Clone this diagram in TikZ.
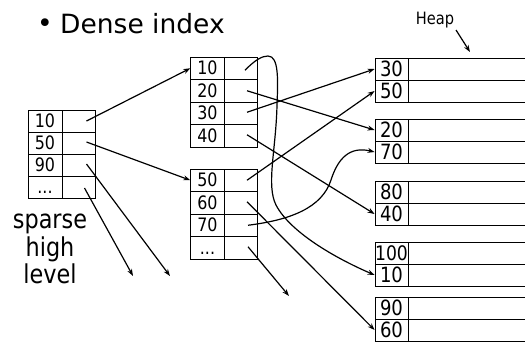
\documentclass[tikz,border=0pt]{standalone}
\usepackage{fontspec}
\setmainfont{DejaVu Sans}
\newfontfamily\narrowfont[FakeStretch=0.86]{DejaVu Sans}
\usetikzlibrary{arrows.meta,calc}
\newcommand{\celldots}{\vphantom{0}...}
\newcommand{\hundred}{\fontsize{20}{20}\selectfont 100}
\begin{document}
\begin{tikzpicture}[x=1pt,y=-1pt,
  cell/.style={draw=black, line width=0.8pt, inner sep=0pt, minimum height=22pt,
    font=\narrowfont\fontsize{18.5}{18.5}\selectfont},
  keycell/.style={cell, minimum width=34pt},
  midcell/.style={cell, minimum width=33.5pt, minimum height=22.5pt},
  heapkey/.style={cell, minimum width=33pt, font=\narrowfont\fontsize{21}{21}\selectfont},
  heapdata/.style={cell, minimum width=118pt, anchor=west},
  link/.style={line width=1.2pt, -{Stealth[length=7pt,width=5pt]}},
  label/.style={inner sep=0pt, font=\narrowfont\fontsize{26}{26}\selectfont},
]
\useasboundingbox (0,0) rectangle (525,341);

% title
\node[inner sep=0pt, font=\fontsize{26.5}{26.5}\selectfont] (bullet) at (45,26) {•};
\node[inner sep=0pt, anchor=base west, font=\fontsize{26.5}{26.5}\selectfont] (title) at (60,33) {Dense index};
\node[inner sep=0pt, anchor=base, font=\narrowfont\fontsize{17}{17}\selectfont] (heaplbl) at (435,24) {Heap};
\coordinate (hs) at (456,30);
\coordinate (he) at (470,52);
\draw[link] (hs) -- (he);

% sparse label
\node[label, anchor=base] (sp1) at (50,228) {sparse};
\node[label, anchor=base] (sp2) at (50,256) {high};
\node[label, anchor=base] (sp3) at (50,283) {level};

% left (sparse) table
\foreach \t [count=\i] in {10,50,90,\celldots} {
  \node[keycell] (Lk\i) at (45,99+22*\i) {\t};
  \node[cell, minimum width=33pt] (Lp\i) at (78.5,99+22*\i) {};
}

% middle top table
\foreach \t [count=\i] in {10,20,30,40} {
  \node[midcell] (Tk\i) at (207.5,45.75+22.5*\i) {\t};
  \node[midcell] (Tp\i) at (241,45.75+22.5*\i) {};
}
% middle bottom table
\foreach \t [count=\i] in {50,60,70,\celldots} {
  \node[midcell] (Bk\i) at (207.5,157.75+22.5*\i) {\t};
  \node[midcell] (Bp\i) at (241,157.75+22.5*\i) {};
}

% heap blocks
\foreach \top/\a/\b [count=\i] in {58/30/50,119/20/70,181/80/40,242/\hundred/10,297/90/60} {
  \node[heapkey] (H\i a) at (391.5,\top+11) {\a};
  \node[heapkey] (H\i b) at (391.5,\top+33) {\b};
  \node[heapdata] (D\i a) at (408,\top+11) {};
  \node[heapdata] (D\i b) at (408,\top+33) {};
}

% sparse level pointers
\draw[link] ($(Lp1.center)+(8,0)$) -- (Tk1.west);
\draw[link] ($(Lp2.center)+(8,-1)$) -- (Bk1.west);
\coordinate (f1) at (170,276);
\coordinate (f2) at (133,276);
\coordinate (f3) at (289,296);
\draw[link] ($(Lp3.center)+(8,-1)$) -- (f1);
\draw[link] ($(Lp4.center)+(6,1)$) -- (f2);

% dense level pointers
\coordinate (t1) at ($(Tp1.center)+(4,2)$);
\draw[link] (t1) .. controls (255,60) and (262,56) .. (268,56)
  .. controls (279,56) and (278,80) .. (277,105)
  .. controls (276,150) and (266,185) .. (276,205)
  .. controls (290,232) and (335,258) .. (H4b.west);
\draw[link] ($(Tp2.center)+(6,0)$) -- (H2a.west);
\draw[link] ($(Tp3.center)+(6,-1)$) -- (H1a.west);
\draw[link] ($(Tp4.center)+(6,-1)$) -- (H3b.west);
\draw[link] ($(Bp1.center)+(6,0)$) -- (H1b.west);
\draw[link] ($(Bp2.center)+(6,-1)$) -- (H5b.west);
\coordinate (t7) at ($(Bp3.center)+(7,0)$);
\draw[link] (t7) .. controls (290,220) and (322,208) .. (331,180)
  .. controls (338,158) and (350,146) .. (H2b.west);
\draw[link] ($(Bp4.center)+(7,-1)$) -- (f3);
\end{tikzpicture}
\end{document}
